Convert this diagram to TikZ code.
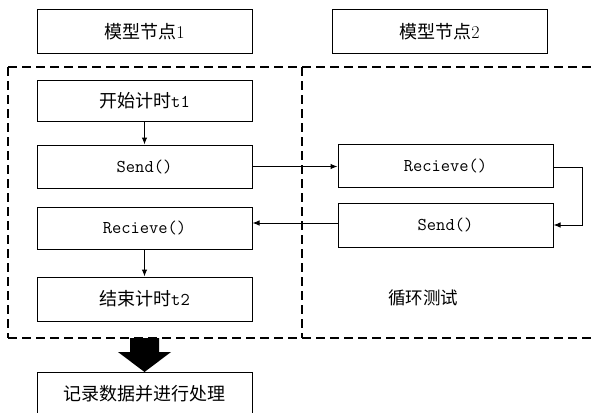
\documentclass[tikz,border=0pt]{standalone}
\usepackage{fontspec}
\newfontfamily\cjk{Noto Sans CJK SC}
\usetikzlibrary{arrows.meta}
\tikzset{
  box/.style={draw, line width=1pt, rectangle, minimum width=215pt, inner sep=0pt, font=\fontsize{18}{20}\selectfont},
  conn/.style={line width=1pt, -{Latex[length=7pt,width=5.5pt]}},
  frame/.style={line width=1.1pt, dash pattern=on 9pt off 5pt},
  lbl/.style={font=\cjk\fontsize{17.5}{20}\selectfont}
}
\begin{document}
\begin{tikzpicture}[x=1pt,y=-1pt]
\useasboundingbox (0,0) rectangle (593,412);
\clip (0,0) rectangle (593,412);
% dashed frame
\draw[frame] (8,67) -- (593,67);
\draw[frame] (8,338) -- (593,338);
\draw[frame] (8,67) -- (8,338);
\draw[frame] (302,67) -- (302,338);
% nodes
\node[box, minimum height=43pt] (n1) at (144.5,31.5) {{\cjk 模型节点}1};
\node[box, minimum height=43pt] (n2) at (439.5,31.5) {{\cjk 模型节点}2};
\node[box, minimum height=41pt] (t1) at (144.5,100.5) {{\cjk 开始计时}{\ttfamily t1}};
\node[box, minimum height=43pt] (s1) at (144.5,166.5) {\ttfamily Send()};
\node[box, minimum height=42pt] (r1) at (144.5,228) {\ttfamily Recieve()};
\node[box, minimum height=44pt] (t2) at (144.5,299) {{\cjk 结束计时}{\ttfamily t2}};
\node[box, minimum height=44pt] (rec) at (144.5,394) {\cjk 记录数据并进行处理};
\node[box, minimum height=43pt] (r2) at (445.5,165.5) {\ttfamily Recieve()};
\node[box, minimum height=44pt] (s2) at (445.5,225) {\ttfamily Send()};
\node[lbl] (loop) at (423,298) {循环测试};
% connectors
\draw[conn] (t1) -- (s1);
\draw[conn] (r1) -- (t2);
\draw[conn] (s1.east) -- (s1.east -| r2.west);
\draw[conn] ([yshift=-2pt]r2.east) -- ++(29,0) |- (s2.east);
\draw[conn] ([yshift=2pt]s2.west) -- ([yshift=2pt]s2.west -| r1.east);
% big arrow
\fill (130,338) -- (159,338) -- (159,352) -- (171,352) -- (144.5,372) -- (118,352) -- (130,352) -- cycle;
\end{tikzpicture}
\end{document}
